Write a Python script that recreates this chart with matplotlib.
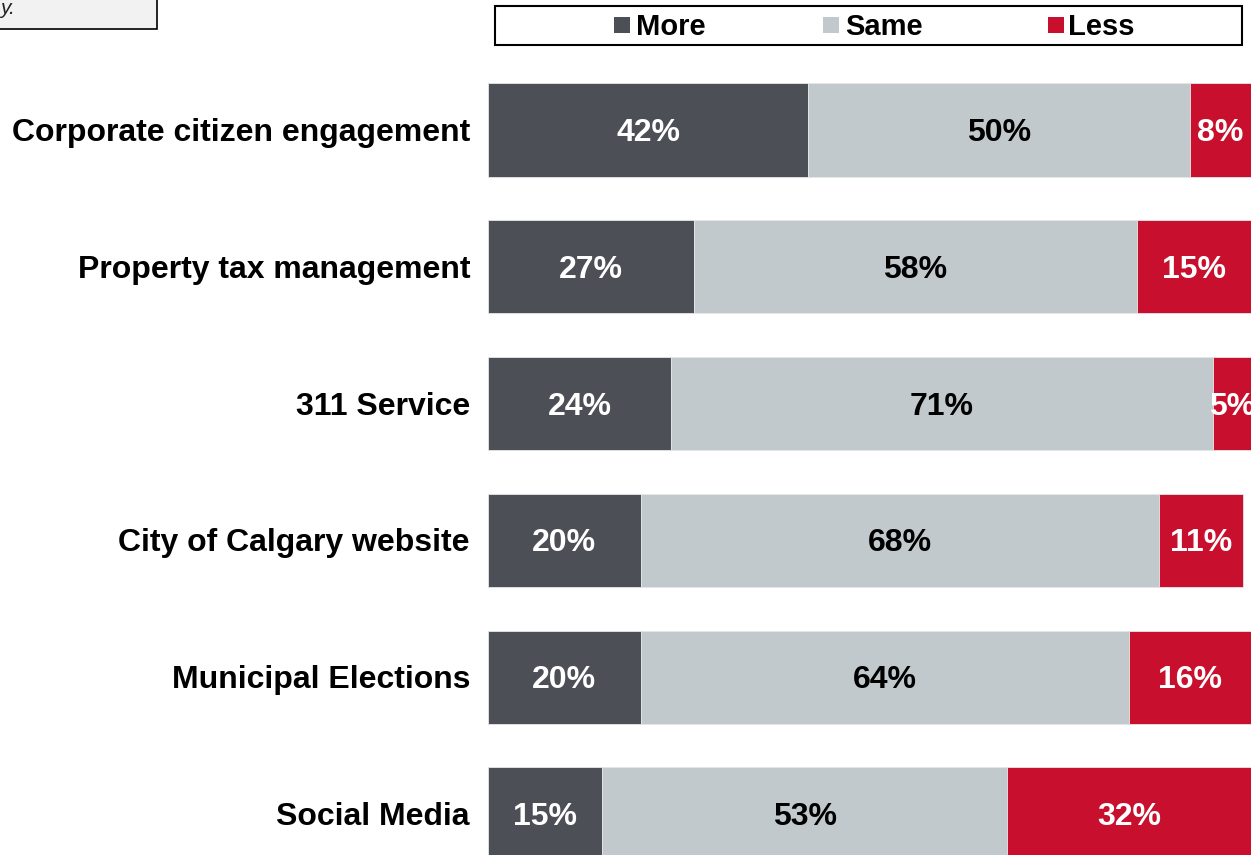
import matplotlib
matplotlib.use("Agg")
import matplotlib.pyplot as plt
from matplotlib.patches import Rectangle
import numpy as np

categories = ["Corporate citizen engagement", "Property tax management", "311 Service",
              "City of Calgary website", "Municipal Elections", "Social Media"]
more = [42, 27, 24, 20, 20, 15]
same = [50, 58, 71, 68, 64, 53]
less = [8, 15, 5, 11, 16, 32]
series_names = ["More", "Same", "Less"]
colors = ["#4d4f57", "#c2c9cc", "#c8102e"]
label_colors = ["white", "black", "white"]

plt.rcParams['font.family'] = ['Liberation Sans', 'DejaVu Sans']

W, H = 1254, 855
fig = plt.figure(figsize=(W / 100, H / 100), dpi=100)

x0, x1 = 488, 1251
ax = fig.add_axes([x0 / W, 0, (x1 - x0) / W, 1])
ax.set_xlim(0, 100)
pitch = 136.8
c0 = 130
ax.set_ylim((H - c0) / pitch, -c0 / pitch)
ax.axis('off')

dy = 3 / pitch  # nudge text to visual centre
y = np.arange(len(categories))
left = np.zeros(len(categories))
for vals, col, lc in zip([more, same, less], colors, label_colors):
    vals = np.array(vals, dtype=float)
    ax.barh(y, vals, left=left, height=0.68, color=col, edgecolor='#e4e6e8', linewidth=0.6)
    for yi, l, v in zip(y, left, vals):
        ax.text(l + v / 2, yi + dy, f"{int(v)}%", ha='center', va='center', color=lc,
                fontsize=23, fontweight='bold', clip_on=False)
    left += vals

for yi, cat in zip(y, categories):
    fig.text(470 / W, 1 - (c0 + 3 + pitch * yi) / H, cat, ha='right', va='center',
             fontsize=23, fontweight='bold', color='black')

# legend box
fig.patches.append(Rectangle((495 / W, 1 - 45 / H), (1242 - 495) / W, 39 / H,
                             transform=fig.transFigure, facecolor='white',
                             edgecolor='black', linewidth=1.5))
leg_items = [(614, 636), (823, 845), (1048, 1068)]
for (mx, tx), col, name in zip(leg_items, colors, series_names):
    fig.patches.append(Rectangle((mx / W, 1 - 33 / H), 16 / W, 16 / H,
                                 transform=fig.transFigure, facecolor=col, edgecolor='none'))
    fig.text(tx / W, 1 - 27 / H, name, ha='left', va='center', fontsize=21,
             fontweight='bold', color='black')

# cropped note box in the corner
fig.patches.append(Rectangle((-5 / W, 1 - 29 / H), 162 / W, 40 / H,
                             transform=fig.transFigure, facecolor='#f2f2f2',
                             edgecolor='black', linewidth=1.2))
fig.text(0 / W, 1 - 9 / H, "y.", ha='left', va='center', fontsize=15,
         style='italic', color='#222222')

fig.savefig("out.png", dpi=100)
